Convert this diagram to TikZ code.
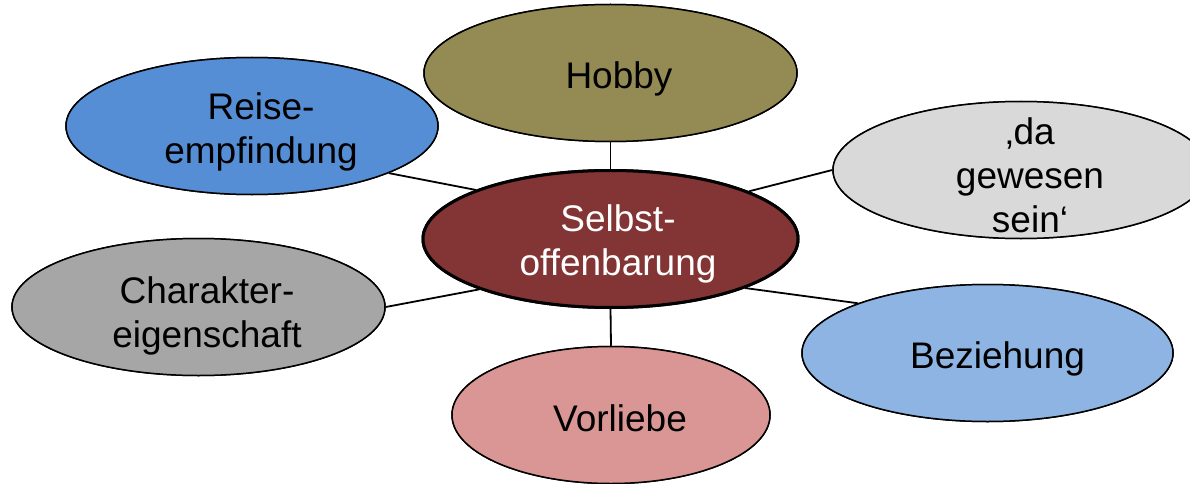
\documentclass[tikz,border=0pt]{standalone}
\usepackage{fontspec}
\setmainfont{Liberation Sans}
\usetikzlibrary{shapes.geometric}
\definecolor{cHobby}{HTML}{948A54}
\definecolor{cReise}{HTML}{558ED5}
\definecolor{cSelbst}{HTML}{833535}
\definecolor{cGew}{HTML}{D9D9D9}
\definecolor{cChar}{HTML}{A6A6A6}
\definecolor{cBez}{HTML}{8EB4E3}
\definecolor{cVor}{HTML}{D99694}
\tikzset{
  bub/.style={ellipse, draw=black, line width=1.5pt, inner sep=0pt, minimum height=137pt},
  hub/.style={bub, line width=3pt},
  lbl/.style={anchor=north, inner sep=0pt, align=center, font=\fontsize{37}{44}\selectfont, text=black},
  conn/.style={draw=black, line width=1.8pt}
}
\begin{document}
\begin{tikzpicture}[x=1pt,y=-1pt]
\useasboundingbox (0,0) rectangle (1190,484);
\clip (0,0) rectangle (1190,484);
% ellipses (shapes only, for anchors)
\path
  node[bub, minimum width=373pt] (hobby) at (610.5,73) {}
  node[bub, minimum width=372pt] (reise) at (252,126) {}
  node[hub, minimum width=375pt] (sel) at (610.5,239) {}
  node[bub, minimum width=376pt] (gew) at (1021,170) {}
  node[bub, minimum width=373pt] (char) at (198.5,307) {}
  node[bub, minimum width=371pt] (bez) at (987.5,353) {}
  node[bub, minimum width=318pt] (vor) at (611,415) {};
% connectors
\draw[conn] (hobby.south) -- (sel.north);
\draw[conn] (vor.north) -- (sel.south);
\draw[conn] (reise.-19.5) -- (sel.160.5);
\draw[conn] (gew.west) -- (sel.19.5);
\draw[conn] (char.east) -- (sel.-159.5);
\draw[conn] (bez.159.6) -- (sel.-20.3);
% filled ellipses on top
\node[bub, fill=cHobby, minimum width=373pt] at (hobby) {};
\node[bub, fill=cReise, minimum width=372pt] at (reise) {};
\node[hub, fill=cSelbst, minimum width=375pt] at (sel) {};
\node[bub, fill=cGew, minimum width=376pt] at (gew) {};
\node[bub, fill=cChar, minimum width=373pt] at (char) {};
\node[bub, fill=cBez, minimum width=371pt] at (bez) {};
\node[bub, fill=cVor, minimum width=318pt] at (vor) {};
% texts
\node[lbl] (hobbyT) at (619,61.5) {Hobby};
\node[lbl] (reiseT) at (261,92.5) {Reise-\\empfindung};
\node[lbl, text=white] (selT) at (618,204.5) {Selbst-\\offenbarung};
\node[lbl] (gewT) at (1030,117.5) {‚da\\gewesen\\sein‘};
\node[lbl] (charT) at (207,276.5) {Charakter-\\eigenschaft};
\node[lbl] (bezT) at (997.5,341.5) {Beziehung};
\node[lbl] (vorT) at (620,404.5) {Vorliebe};
\end{tikzpicture}
\end{document}
